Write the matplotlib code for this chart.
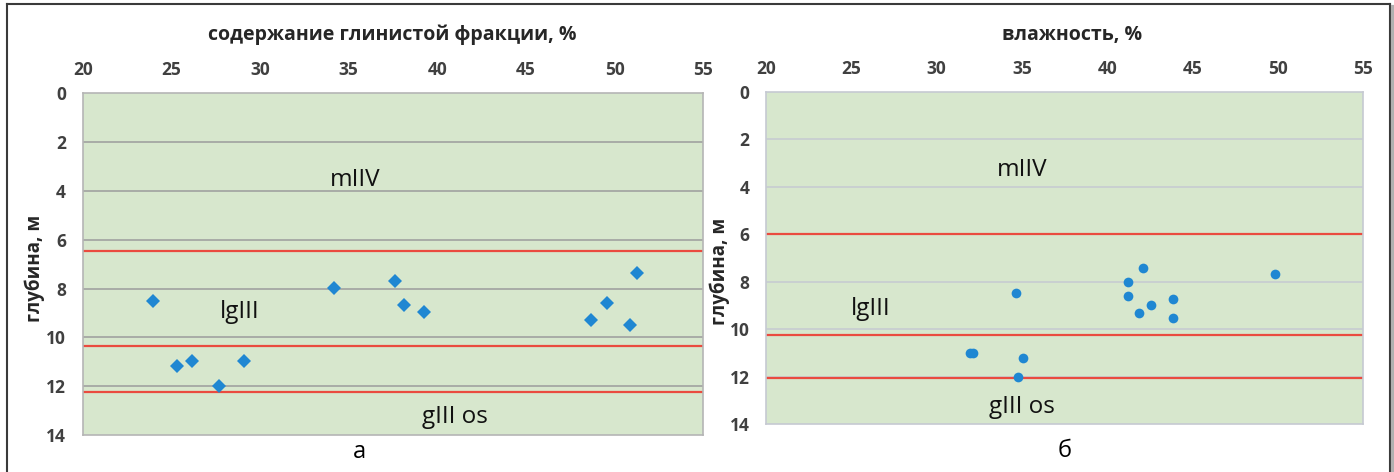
import matplotlib
matplotlib.use('Agg')
import matplotlib.pyplot as plt
from matplotlib.lines import Line2D

plt.rcParams['font.family'] = ['Open Sans', 'DejaVu Sans']

# clay fraction content (%) vs depth (m)
clay_pct = [23.98, 25.32, 26.16, 27.67, 29.11, 34.19, 37.6, 38.1, 39.23,
            48.69, 49.59, 50.87, 51.28]
clay_depth = [8.5, 11.18, 10.97, 11.98, 10.97, 7.99, 7.69, 8.68, 8.96,
              9.28, 8.58, 9.48, 7.38]

# moisture (%) vs depth (m)
moist_pct = [34.63, 31.95, 32.15, 35.08, 34.77, 42.1, 41.2, 41.2, 42.55,
             41.87, 43.86, 43.86, 49.84]
moist_depth = [8.49, 11.02, 11.02, 11.2, 12.0, 7.41, 8.02, 8.6, 9.0,
               9.31, 8.72, 9.52, 7.69]

# layer boundaries (m)
clay_bounds = [6.45, 10.36, 12.24]
moist_bounds = [6.0, 10.25, 12.07]

x_ticks = [20, 25, 30, 35, 40, 45, 50, 55]
y_ticks = [0, 2, 4, 6, 8, 10, 12, 14]

titles = ['содержание глинистой фракции, %', 'влажность, %']
panel_names = ['а', 'б']
ylabel = 'глубина, м'

# layer labels: (text, x, y) in data units
clay_layers = [('mIIV', 35.36, 3.55), ('lgIII', 28.83, 8.95), ('gIII os', 41.0, 13.25)]
moist_layers = [('mIIV', 35.0, 3.3), ('lgIII', 26.15, 9.15), ('gIII os', 35.0, 13.3)]

W, H = 1394, 472
fig = plt.figure(figsize=(W / 100, H / 100), dpi=100)

def px_axes(x0, y0, x1, y1):
    return fig.add_axes([x0 / W, 1 - y1 / H, (x1 - x0) / W, (y1 - y0) / H])

ax1 = px_axes(82.7, 93.3, 703.3, 435)
ax2 = px_axes(766, 91.7, 1363.3, 424)

green = '#d7e7cd'
blue = '#1f87d2'
red = '#ea4b3f'

panels = [
    (ax1, clay_pct, clay_depth, clay_bounds, clay_layers, 'D', 7.2, '#9c9c9c', '#b5b5b5'),
    (ax2, moist_pct, moist_depth, moist_bounds, moist_layers, 'o', 7.0, '#c6cad2', '#c6cad2'),
]

for ax, xs, ys, bounds, layers, mk, ms, gcol, scol in panels:
    ax.set_facecolor(green)
    ax.set_xlim(20, 55)
    ax.set_ylim(14, 0)
    ax.set_xticks(x_ticks)
    ax.set_yticks(y_ticks)
    ax.xaxis.tick_top()
    ax.tick_params(axis='x', length=0, pad=10, labelsize=12.5, labelcolor='#404040')
    ax.tick_params(axis='y', length=0, pad=12, labelsize=12.5, labelcolor='#404040')
    for lab in ax.get_xticklabels() + ax.get_yticklabels():
        lab.set_fontweight('bold')
    for y in y_ticks[1:-1]:
        ax.axhline(y, color=gcol, lw=1.1, zorder=1)
    for s in ax.spines.values():
        s.set_color(scol)
        s.set_linewidth(1.2)
    for b in bounds:
        ax.axhline(b, color=red, lw=1.6, zorder=2)
    ax.plot(xs, ys, linestyle='none', marker=mk, ms=ms, color=blue,
            markeredgewidth=0, zorder=3)
    for txt, x, y in layers:
        ax.text(x, y, txt, fontsize=17.5, ha='center', va='center', color='#111111', zorder=4)

# titles, axis labels and panel names
fig.text(392 / W, 1 - 35 / H, titles[0], fontsize=14, fontweight='bold',
         ha='center', va='center', color='#262626')
fig.text(1072 / W, 1 - 35 / H, titles[1], fontsize=14, fontweight='bold',
         ha='center', va='center', color='#262626')
fig.text(35 / W, 1 - 268 / H, ylabel, fontsize=13.5, fontweight='bold', rotation=90,
         ha='center', va='center', color='#262626')
fig.text(720 / W, 1 - 271 / H, ylabel, fontsize=13.5, fontweight='bold', rotation=90,
         ha='center', va='center', color='#262626')
fig.text(359 / W, 1 - 452 / H, panel_names[0], fontsize=17, ha='center', va='center')
fig.text(1065 / W, 1 - 451 / H, panel_names[1], fontsize=17, ha='center', va='center')

# outer frame (left, top, right with shadow)
frame = dict(transform=fig.transFigure, color='#3a3a3a', lw=1.5)
fig.add_artist(Line2D([7 / W, 7 / W], [0, 1 - 4 / H], **frame))
fig.add_artist(Line2D([7 / W, 1390 / W], [1 - 4 / H, 1 - 4 / H], **frame))
fig.add_artist(Line2D([1390 / W, 1390 / W], [0, 1 - 4 / H], **frame))
fig.add_artist(Line2D([1392.5 / W, 1392.5 / W], [0, 1 - 7 / H], transform=fig.transFigure,
                      color='#b0b0b0', lw=3))

fig.savefig('out.png', dpi=100)
